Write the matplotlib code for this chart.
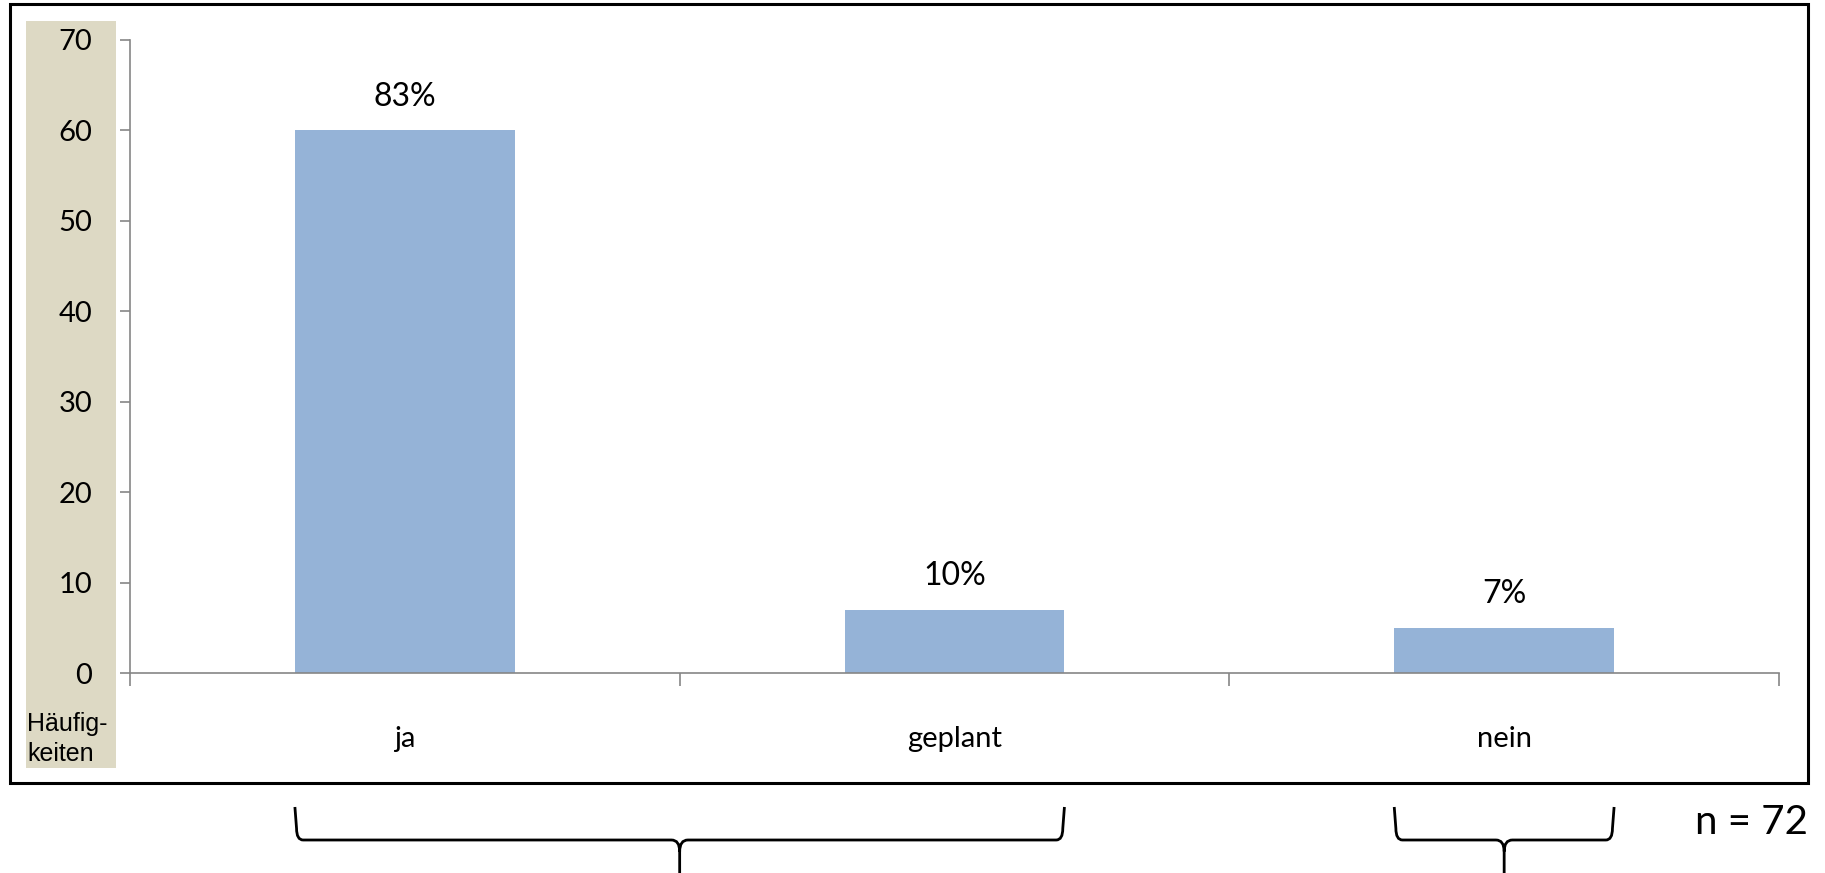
import numpy as np
import matplotlib.pyplot as plt
from matplotlib.path import Path
from matplotlib.patches import PathPatch, Rectangle
from matplotlib.transforms import blended_transform_factory

# Umfrage: Häufigkeiten je Antwort
categories = ['ja', 'geplant', 'nein']
counts = [60, 7, 5]
n_total = 72
y_ticks = [0, 10, 20, 30, 40, 50, 60, 70]

bar_color = '#95B3D7'
tan = '#DDD9C4'
axis_gray = '#868686'

plt.rcParams['font.family'] = ['Lato', 'DejaVu Sans']

fig = plt.figure(figsize=(18.25, 8.73), dpi=100)
W, H = 1825, 873

def fx(px):
    return px / W

def fy(py):
    return 1 - py / H

# black frame around the chart
fig.patches.append(Rectangle((fx(10), fy(783)), fx(1808) - fx(10), fy(4) - fy(783),
                             transform=fig.transFigure, fill=False,
                             edgecolor='black', linewidth=2.2, zorder=0))
# tan strip behind the y axis labels
fig.patches.append(Rectangle((fx(26), fy(768)), fx(116) - fx(26), fy(21) - fy(768),
                             transform=fig.transFigure, facecolor=tan,
                             edgecolor='none', zorder=0))

ax = fig.add_axes([fx(130), fy(673), fx(1779) - fx(130), fy(40) - fy(673)])
ax.set_zorder(2)
ax.patch.set_alpha(0)

x = np.arange(len(categories))
ax.bar(x, counts, width=0.4, color=bar_color, zorder=2)

ax.set_xlim(-0.5, len(categories) - 0.5)
ax.set_ylim(0, 70)
ax.set_yticks(y_ticks)
ax.tick_params(axis='y', labelsize=21, length=7, color=axis_gray, width=1.2, pad=20)

# tick marks between the categories, labels in the middle
ax.set_xticks(np.arange(-0.5, len(categories), 1.0))
ax.set_xticklabels([])
ax.tick_params(axis='x', length=9, color=axis_gray, width=1.2)
trans_x = blended_transform_factory(ax.transData, fig.transFigure)
for xi, cat in zip(x, categories):
    ax.text(xi, fy(739), cat, transform=trans_x, ha='center', va='center', fontsize=21)

for side in ['top', 'right']:
    ax.spines[side].set_visible(False)
for side in ['left', 'bottom']:
    ax.spines[side].set_color(axis_gray)
    ax.spines[side].set_linewidth(1.2)

# percentage labels above the bars
for xi, c in zip(x, counts):
    pct = int(round(c / n_total * 100))
    ax.annotate(f'{pct}%', (xi, c), xytext=(0, 24), textcoords='offset points',
                ha='center', va='center', fontsize=23)

fig.text(fx(27), fy(724), 'Häufig-', ha='left', va='center', fontsize=18,
         family='Liberation Sans')
fig.text(fx(27), fy(754), 'keiten', ha='left', va='center', fontsize=18,
         family='Liberation Sans')

fig.text(fx(1808), fy(823), f'n = {n_total}', ha='right', va='center', fontsize=29)


def brace(x0, x1, y_top, y_mid, y_tip):
    xc = (x0 + x1) / 2
    r = 0.015
    c = (y_top - y_mid) * 0.35
    verts = [
        (x0, y_top), (x0 + 0.003, y_mid + c), (x0 + 0.003, y_mid), (x0 + r, y_mid),
        (xc - r, y_mid), (xc, y_mid), (xc, y_mid - c), (xc, y_tip),
        (xc, y_mid - c), (xc, y_mid), (xc + r, y_mid),
        (x1 - r, y_mid), (x1 - 0.003, y_mid), (x1 - 0.003, y_mid + c), (x1, y_top),
    ]
    codes = [
        Path.MOVETO, Path.LINETO, Path.CURVE3, Path.CURVE3,
        Path.LINETO, Path.CURVE3, Path.CURVE3, Path.LINETO,
        Path.MOVETO, Path.CURVE3, Path.CURVE3,
        Path.LINETO, Path.CURVE3, Path.CURVE3, Path.LINETO,
    ]
    ax.add_patch(PathPatch(Path(verts, codes), transform=trans_x, fill=False,
                           edgecolor='black', linewidth=2, clip_on=False))


# braces grouping ja + geplant, and nein
brace(x[0] - 0.2, x[1] + 0.2, fy(807), fy(840), fy(876))
brace(x[2] - 0.2, x[2] + 0.2, fy(807), fy(840), fy(876))

fig.savefig('out.png', dpi=100)
